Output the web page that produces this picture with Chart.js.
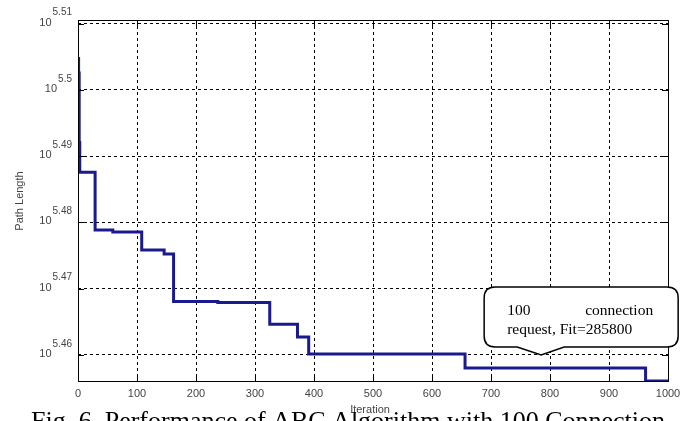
<!DOCTYPE html>
<html>
<head>
<meta charset="utf-8">
<script src="https://cdn.jsdelivr.net/npm/chart.js@4/dist/chart.umd.min.js"></script>
<style>
  body { margin: 0; background: #fff; }
</style>
</head>
<body>
<canvas id="abc-chart" width="689" height="421"></canvas>
<script>
'use strict';

// iteration where each new best path starts
var iterations = [0, 1, 2, 3, 29, 59, 108, 146, 162, 237, 325, 372, 391, 656, 962, 1000];
// best path length so far
var pathLength = [319700, 318100, 310500, 307300, 301200, 301000, 299100, 298700, 293800, 293700, 291500, 290200, 288500, 287100, 285800, 285800];

var xTicks = [0, 100, 200, 300, 400, 500, 600, 700, 800, 900, 1000];
var yTickExp = [5.46, 5.47, 5.48, 5.49, 5.5, 5.51];
var yTickLabels = ['5.46', '5.47', '5.48', '5.49', '5.5', '5.51'];
var yMin = 285800;
var yMax = 324000;

var noteLines = ['100', 'connection', 'request, Fit=285800'];
var noteAt = { x: 785, y: 288400 };
var caption = 'Fig. 6. Performance of ABC Algorithm with 100 Connection';

var points = iterations.map(function (it, i) {
  return { x: it, y: pathLength[i] };
});

// labels, box, ticks and the callout (matlab look)
var matlabLook = {
  id: 'matlabLook',
  beforeDraw: function (chart) {
    var ctx = chart.ctx;
    ctx.save();
    ctx.fillStyle = '#fff';
    ctx.fillRect(0, 0, chart.width, chart.height);
    ctx.restore();
  },
  afterDraw: function (chart) {
    var ctx = chart.ctx;
    var a = chart.chartArea;
    var xs = chart.scales.x;
    var ys = chart.scales.y;
    ctx.save();

    // box
    ctx.strokeStyle = '#000';
    ctx.lineWidth = 1;
    ctx.setLineDash([]);
    ctx.strokeRect(a.left + 0.5, a.top + 0.5, a.right - a.left, a.bottom - a.top);

    // inner ticks
    ctx.beginPath();
    xTicks.forEach(function (t) {
      var px = Math.round(xs.getPixelForValue(t)) + 0.5;
      ctx.moveTo(px, a.bottom); ctx.lineTo(px, a.bottom - 6);
      ctx.moveTo(px, a.top); ctx.lineTo(px, a.top + 6);
    });
    yTickExp.forEach(function (e) {
      var py = Math.round(ys.getPixelForValue(Math.pow(10, e))) + 0.5;
      ctx.moveTo(a.left, py); ctx.lineTo(a.left + 6, py);
      ctx.moveTo(a.right, py); ctx.lineTo(a.right - 6, py);
    });
    ctx.stroke();

    // x tick labels
    ctx.fillStyle = '#444';
    ctx.font = '11px "Liberation Sans", Arial, sans-serif';
    ctx.textAlign = 'center';
    ctx.textBaseline = 'middle';
    xTicks.forEach(function (t) {
      ctx.fillText(String(t), xs.getPixelForValue(t), 394);
    });

    // y tick labels: 10^exp
    yTickExp.forEach(function (e, i) {
      var py = ys.getPixelForValue(Math.pow(10, e));
      ctx.font = '10px "Liberation Sans", Arial, sans-serif';
      ctx.textAlign = 'right';
      var ew = ctx.measureText(yTickLabels[i]).width;
      ctx.fillText(yTickLabels[i], 72, py - 11);
      ctx.font = '11px "Liberation Sans", Arial, sans-serif';
      ctx.fillText('10', 72 - ew - 1, py - 1);
    });

    // axis titles
    ctx.font = '11px "Liberation Sans", Arial, sans-serif';
    ctx.textAlign = 'center';
    ctx.save();
    ctx.translate(20, 201);
    ctx.rotate(-Math.PI / 2);
    ctx.fillText('Path Length', 0, 0);
    ctx.restore();
    ctx.fillText('Iteration', 370, 410);

    // callout
    var tx = xs.getPixelForValue(noteAt.x);
    var ty = ys.getPixelForValue(noteAt.y);
    var L = tx - 57, R = tx + 137, T = ty - 68, B = ty - 8, r = 11;
    ctx.beginPath();
    ctx.moveTo(L + r, T);
    ctx.lineTo(R - r, T);
    ctx.quadraticCurveTo(R, T, R, T + r);
    ctx.lineTo(R, B - r);
    ctx.quadraticCurveTo(R, B, R - r, B);
    ctx.lineTo(tx + 23, B);
    ctx.lineTo(tx, ty);
    ctx.lineTo(tx - 24, B);
    ctx.lineTo(L + r, B);
    ctx.quadraticCurveTo(L, B, L, B - r);
    ctx.lineTo(L, T + r);
    ctx.quadraticCurveTo(L, T, L + r, T);
    ctx.closePath();
    ctx.fillStyle = '#fff';
    ctx.fill();
    ctx.lineWidth = 1.5;
    ctx.strokeStyle = '#000';
    ctx.stroke();

    ctx.fillStyle = '#000';
    ctx.font = '15.5px "Liberation Serif", "Times New Roman", serif';
    ctx.textBaseline = 'alphabetic';
    ctx.textAlign = 'left';
    ctx.fillText(noteLines[0], L + 23, T + 28);
    ctx.textAlign = 'right';
    ctx.fillText(noteLines[1], R - 25, T + 28);
    ctx.textAlign = 'left';
    ctx.fillText(noteLines[2], L + 23, T + 47);

    // caption
    ctx.font = '26px "Liberation Serif", "Times New Roman", serif';
    ctx.fillText(caption, 31, 429);

    ctx.restore();
  }
};

var ctx = document.getElementById('abc-chart').getContext('2d');
var abcChart = new Chart(ctx, {
  type: 'line',
  data: {
    datasets: [{
      label: 'ABC',
      data: points,
      stepped: 'before',
      borderColor: '#1a1a8e',
      borderWidth: 3,
      pointRadius: 0,
      fill: false
    }]
  },
  options: {
    responsive: false,
    animation: false,
    layout: { padding: { left: 78, right: 21, top: 20, bottom: 40 } },
    plugins: { legend: { display: false }, tooltip: { enabled: false } },
    scales: {
      x: {
        type: 'linear',
        min: 0,
        max: 1000,
        afterBuildTicks: function (scale) {
          scale.ticks = xTicks.map(function (t) { return { value: t }; });
        },
        ticks: { display: false },
        grid: { color: '#000', lineWidth: 1, drawTicks: false },
        border: { display: false, dash: [3, 3] }
      },
      y: {
        type: 'logarithmic',
        min: yMin,
        max: yMax,
        afterBuildTicks: function (scale) {
          scale.ticks = yTickExp.map(function (e) { return { value: Math.pow(10, e) }; });
        },
        ticks: { display: false },
        grid: { color: '#000', lineWidth: 1, drawTicks: false },
        border: { display: false, dash: [3, 3] }
      }
    }
  },
  plugins: [matlabLook]
});
</script>
</body>
</html>
